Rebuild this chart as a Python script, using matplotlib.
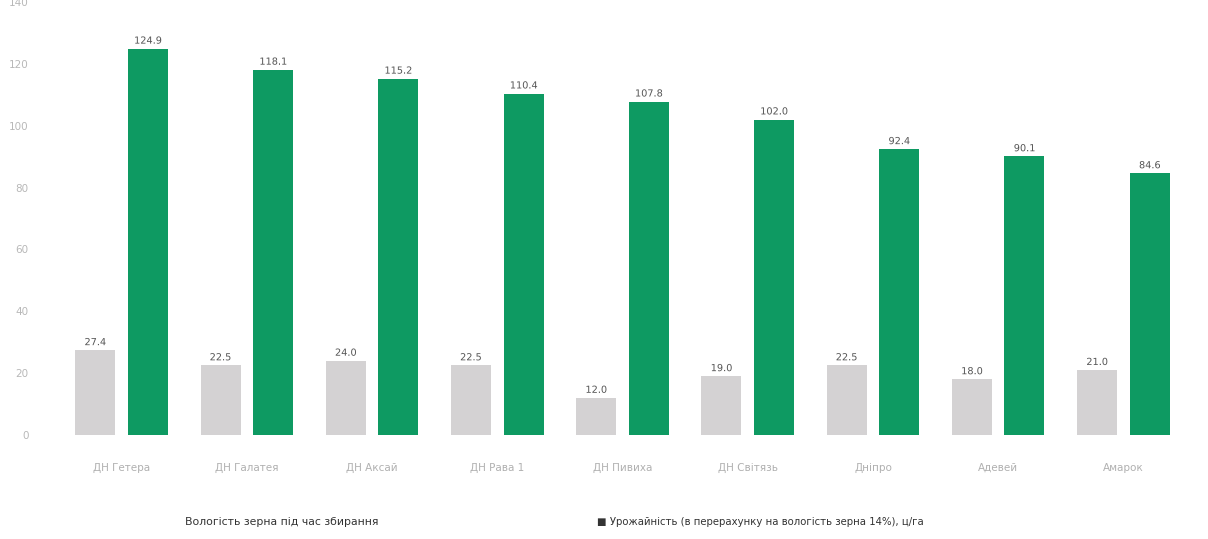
import numpy as np
import matplotlib.pyplot as plt
import matplotlib.patheffects as pe

# гібриди кукурудзи
hybrids = ['ДН Гетера', 'ДН Галатея', 'ДН Аксай', 'ДН Рава 1', 'ДН Пивиха', 'ДН Світязь', 'Дніпро', 'Адевей', 'Амарок']
moisture = [27.4, 22.5, 24.0, 22.5, 12.0, 19.0, 22.5, 18.0, 21.0]        # вологість, %
yield_c = [124.9, 118.1, 115.2, 110.4, 107.8, 102.0, 92.4, 90.1, 84.6]   # урожайність, ц/га

c_grey = '#d4d2d3'
c_green = '#0e9a62'

fig = plt.figure(figsize=(12.08, 5.39), dpi=100)
ax = fig.add_axes([59/1208, 1-435/539, 1127/1208, 433/539])

x = np.arange(len(hybrids))
w = 0.32
off = 0.21
ax.bar(x - off, moisture, w, color=c_grey)
ax.bar(x + off, yield_c, w, color=c_green)

halo = [pe.withStroke(linewidth=3, foreground='white')]
for xi, v in zip(x, moisture):
    ax.text(xi - off, v + 1.0, f'{v:.1f}', ha='center', va='bottom', fontsize=7,
            color='#555555', path_effects=halo)
for xi, v in zip(x, yield_c):
    ax.text(xi + off, v + 1.0, f'{v:.1f}', ha='center', va='bottom', fontsize=7,
            color='#555555', path_effects=halo)

ax.set_xlim(-0.5, len(hybrids) - 0.5)
ax.set_ylim(0, 140)
ax.set_yticks(np.arange(0, 141, 20))
ax.set_xticks(x)
ax.set_xticklabels(hybrids, fontsize=7.5, color='#b0b0b0')
ax.tick_params(axis='x', length=0, pad=20)
ax.tick_params(axis='y', length=0, labelsize=7.5, labelcolor='#b8b8b8', pad=22)
for s in ax.spines.values():
    s.set_visible(False)

fig.text(185/1208, 1-522/539, 'Вологість зерна під час збирання', fontsize=7.8,
         color='#333333', va='center')
fig.text(597/1208, 1-522/539, '■ Урожайність (в перерахунку на вологість зерна 14%), ц/га',
         fontsize=7.3, color='#333333', va='center')

fig.savefig('out.png', dpi=100)
